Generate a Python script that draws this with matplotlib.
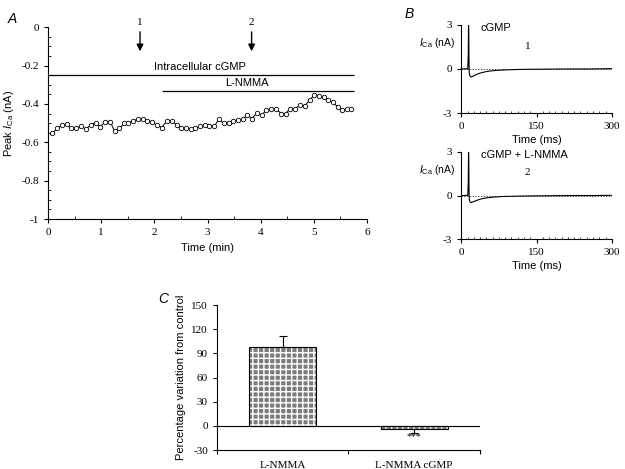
import matplotlib

matplotlib.use("Agg")
import matplotlib.pyplot as plt
from matplotlib.ticker import MultipleLocator

plt.rcParams["font.family"] = ["Liberation Sans", "DejaVu Sans"]
plt.rcParams["mathtext.fontset"] = "custom"
plt.rcParams["mathtext.rm"] = "Liberation Sans"
plt.rcParams["mathtext.it"] = "Liberation Sans:italic"

SERIF = "Liberation Serif"

# --- panel A: peak I_Ca over time ---
times_min = [0.08, 0.17, 0.26, 0.35, 0.43, 0.52, 0.62, 0.71, 0.80, 0.90, 0.98,
             1.07, 1.17, 1.25, 1.34, 1.43, 1.51, 1.60, 1.69, 1.78, 1.87, 1.96,
             2.04, 2.14, 2.23, 2.33, 2.42, 2.50, 2.59, 2.68, 2.77, 2.86, 2.95,
             3.03, 3.13, 3.21, 3.31, 3.40, 3.48, 3.57, 3.66, 3.75, 3.84, 3.93,
             4.02, 4.11, 4.20, 4.29, 4.39, 4.47, 4.56, 4.65, 4.74, 4.83, 4.92,
             5.01, 5.09, 5.19, 5.27, 5.36, 5.45, 5.54, 5.62, 5.70]
peak_ica = [-0.554, -0.528, -0.510, -0.507, -0.528, -0.528, -0.516, -0.531, -0.510, -0.497, -0.519,
            -0.493, -0.493, -0.542, -0.528, -0.502, -0.497, -0.488, -0.481, -0.479, -0.488, -0.493,
            -0.510, -0.523, -0.490, -0.488, -0.510, -0.523, -0.528, -0.531, -0.528, -0.516, -0.510,
            -0.514, -0.516, -0.481, -0.502, -0.497, -0.488, -0.484, -0.479, -0.458, -0.476, -0.446,
            -0.458, -0.432, -0.429, -0.427, -0.450, -0.450, -0.424, -0.424, -0.406, -0.411, -0.380,
            -0.354, -0.359, -0.363, -0.380, -0.392, -0.415, -0.430, -0.428, -0.428]
assert len(times_min) == len(peak_ica)

cgmp_bar = (0.0, 5.75, -0.25)      # start, end, level
lnmma_bar = (2.15, 5.75, -0.33)
arrow_times = [1.73, 3.83]
arrow_labels = ["1", "2"]

# --- panel B: current traces ---
trace_t = [0, 5, 10, 13, 14, 14.5, 15, 15.5, 16, 17, 19, 22, 26, 30, 36, 42,
           50, 60, 70, 85, 100, 120, 150, 180, 220, 260, 300]
trace_cgmp = [0, 0, 0.02, 0, 1.0, 3.0, 2.5, 0.3, -0.3, -0.45, -0.55, -0.52, -0.45,
              -0.38, -0.3, -0.24, -0.18, -0.13, -0.1, -0.07, -0.05, -0.03, -0.02,
              -0.01, 0, 0, 0.02]
trace_lnmma = [0, 0, 0.02, 0, 1.0, 3.0, 2.5, 0.3, -0.25, -0.4, -0.48, -0.45, -0.4,
               -0.34, -0.27, -0.21, -0.16, -0.12, -0.09, -0.06, -0.05, -0.03, -0.02,
               -0.01, 0, 0, 0.02]

# --- panel C: bar chart ---
conditions = ["L-NMMA", "L-NMMA cGMP"]
pct_change = [97.5, -4.0]
pct_err = [13.5, 5.0]

fig = plt.figure(figsize=(6.25, 4.69), dpi=100)

# ---------------- A ----------------
axA = fig.add_axes([0.077, 0.533, 0.510, 0.409])
axA.plot(times_min, peak_ica, color="k", lw=0.7, marker="o", markersize=3.2,
         markerfacecolor="white", markeredgewidth=0.6)
axA.set_xlim(0, 6)
axA.set_ylim(-1, 0)
for sp in ("top", "right"):
    axA.spines[sp].set_visible(False)
axA.xaxis.set_minor_locator(MultipleLocator(0.5))
axA.yaxis.set_minor_locator(MultipleLocator(0.05))
axA.set_yticks([-1, -0.8, -0.6, -0.4, -0.2, 0])
axA.set_yticklabels(["-1", "-0.8", "-0.6", "-0.4", "-0.2", "0"], family=SERIF)
axA.set_xticks(range(7))
axA.set_xticklabels([str(i) for i in range(7)], family=SERIF)
axA.tick_params(which="major", direction="out", length=3, width=0.8, labelsize=8)
axA.tick_params(which="minor", direction="in", length=2, width=0.6)
axA.set_xlabel("Time (min)", fontsize=8, labelpad=4)
axA.set_ylabel(r"Peak $I_{\mathrm{Ca}}$ (nA)", fontsize=8, labelpad=4)

axA.hlines(cgmp_bar[2], cgmp_bar[0], cgmp_bar[1], color="k", lw=0.9, clip_on=False)
axA.hlines(lnmma_bar[2], lnmma_bar[0], lnmma_bar[1], color="k", lw=0.9, clip_on=False)
axA.text(2.85, cgmp_bar[2] + 0.015, "Intracellular cGMP", fontsize=8, ha="center", va="bottom")
axA.text(3.75, lnmma_bar[2] + 0.015, "L-NMMA", fontsize=8, ha="center", va="bottom")
for t, lab in zip(arrow_times, arrow_labels):
    axA.annotate("", xy=(t, -0.14), xytext=(t, -0.01),
                 arrowprops=dict(arrowstyle="-|>", color="k", lw=1.0, mutation_scale=10),
                 annotation_clip=False)
    axA.text(t, 0.0, lab, fontsize=8, family=SERIF, ha="center", va="bottom")
fig.text(0.012, 0.975, "A", fontsize=10, style="italic", va="top")


# ---------------- B ----------------
def trace_panel(rect, values, title, num):
    ax = fig.add_axes(rect)
    ax.plot(trace_t, values, color="k", lw=0.8)
    ax.axhline(0, color="k", lw=0.5, ls=(0, (2, 2)), zorder=0)
    ax.set_xlim(0, 300)
    ax.set_ylim(-3, 3)
    for sp in ("top", "right"):
        ax.spines[sp].set_visible(False)
    ax.set_xticks([0, 150, 300])
    ax.set_xticklabels(["0", "150", "300"], family=SERIF)
    ax.set_yticks([-3, 0, 3])
    ax.set_yticklabels(["-3", "0", "3"], family=SERIF)
    ax.xaxis.set_minor_locator(MultipleLocator(12.5))
    ax.tick_params(which="major", direction="out", length=3, width=0.8, labelsize=8)
    ax.tick_params(which="minor", direction="in", length=1.5, width=0.5)
    ax.set_xlabel("Time (ms)", fontsize=8, labelpad=3)
    ax.text(-0.04, 0.79, r"$I_{\mathrm{Ca}}$ (nA)", transform=ax.transAxes,
            fontsize=7.5, ha="right", va="center")
    ax.text(0.13, 0.97, title, transform=ax.transAxes, fontsize=8, va="center")
    ax.text(0.44, 0.76, num, transform=ax.transAxes, fontsize=8, family=SERIF,
            ha="center", va="center")
    return ax


trace_panel([0.738, 0.759, 0.241, 0.188], trace_cgmp, "cGMP", "1")
trace_panel([0.738, 0.490, 0.241, 0.186], trace_lnmma, "cGMP + L-NMMA", "2")
fig.text(0.648, 0.985, "B", fontsize=10, style="italic", va="top")

# ---------------- C ----------------
axC = fig.add_axes([0.347, 0.0405, 0.421, 0.309])
xpos = [0.5, 1.5]
axC.bar(xpos, pct_change, width=0.51, color="#7c7c7c", hatch="+++",
        edgecolor="white", linewidth=0, zorder=2)
axC.bar(xpos, pct_change, width=0.51, fill=False, edgecolor="k", linewidth=0.8, zorder=3)
axC.errorbar(xpos, pct_change,
             yerr=[[0, pct_err[1]], [pct_err[0], 0]],
             fmt="none", ecolor="k", elinewidth=0.8, capsize=3, capthick=0.8, zorder=4)
axC.axhline(0, color="k", lw=0.8, zorder=1)
axC.text(xpos[1], -13, "***", fontsize=7, family=SERIF, ha="center", va="center")
axC.set_xlim(0, 2)
axC.set_ylim(-30, 150)
for sp in ("top", "right"):
    axC.spines[sp].set_visible(False)
axC.set_yticks([-30, 0, 30, 60, 90, 120, 150])
axC.set_yticklabels(["-30", "0", "30", "60", "90", "120", "150"], family=SERIF)
axC.set_xticks([0, 1, 2])
axC.set_xticklabels([])
axC.set_xticks(xpos, minor=True)
axC.set_xticklabels(conditions, minor=True, family=SERIF, fontsize=8)
axC.tick_params(axis="x", which="minor", length=0, pad=8)
axC.tick_params(which="major", direction="out", length=3, width=0.8, labelsize=8)
axC.set_ylabel("Percentage variation from control", fontsize=8, labelpad=4)
fig.text(0.253, 0.378, "C", fontsize=10, style="italic", va="top")

fig.savefig("out.png", dpi=100)
